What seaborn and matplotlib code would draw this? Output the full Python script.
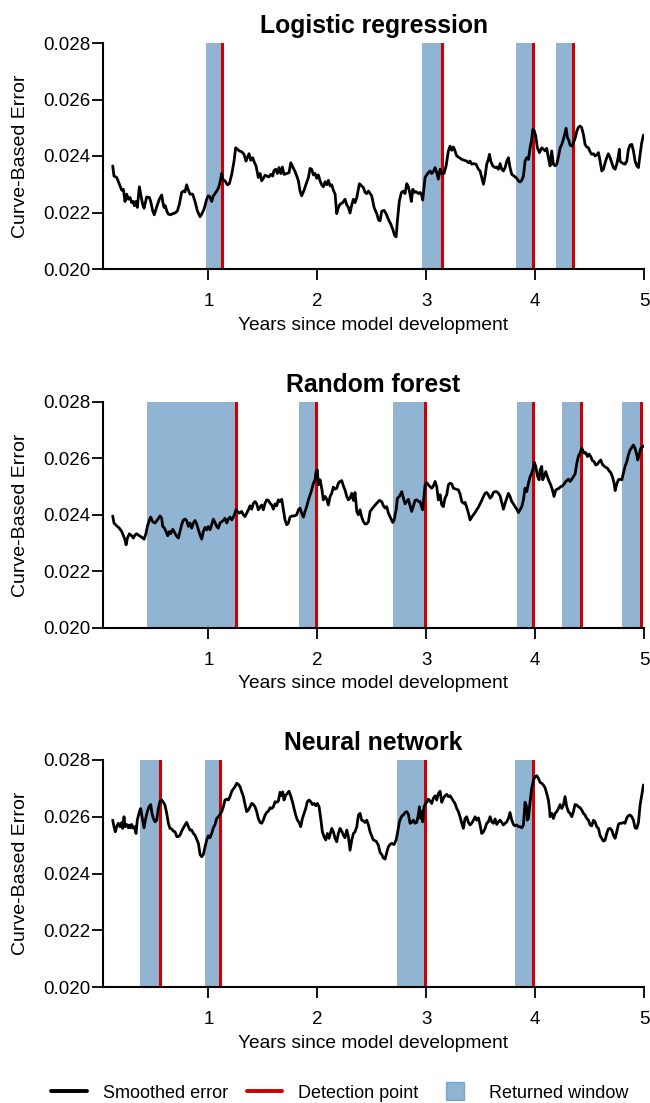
import matplotlib
matplotlib.use("Agg")
import numpy as np
import pandas as pd
import matplotlib.pyplot as plt
import seaborn as sns
from matplotlib.lines import Line2D

sns.set_theme(style="ticks")
plt.rcParams["font.family"] = ["Liberation Sans", "DejaVu Sans"]
plt.rcParams["text.color"] = "black"
plt.rcParams["axes.labelcolor"] = "black"
plt.rcParams["xtick.color"] = "black"
plt.rcParams["ytick.color"] = "black"

# ---------------- smoothed curve-based error, per model ----------------
lr_years = [
    0.122, 0.134, 0.159, 0.183, 0.205, 0.220, 0.235, 0.250, 0.266, 0.281, 0.296, 0.312, 0.321, 0.336, 0.348,
    0.367, 0.379, 0.397, 0.410, 0.434, 0.459, 0.471, 0.489, 0.504, 0.526, 0.550, 0.572, 0.581, 0.593, 0.605,
    0.618, 0.633, 0.654, 0.673, 0.694, 0.716, 0.734, 0.755, 0.771, 0.786, 0.801, 0.817, 0.832, 0.856, 0.878,
    0.899, 0.924, 0.939, 0.961, 0.985, 1.000, 1.016, 1.031, 1.046, 1.062, 1.077, 1.092, 1.107, 1.123, 1.132,
    1.153, 1.175, 1.193, 1.215, 1.236, 1.251, 1.267, 1.285, 1.306, 1.328, 1.346, 1.358, 1.374, 1.389, 1.407,
    1.420, 1.438, 1.459, 1.475, 1.490, 1.505, 1.521, 1.536, 1.557, 1.573, 1.591, 1.603, 1.619, 1.634, 1.649,
    1.665, 1.680, 1.695, 1.720, 1.741, 1.757, 1.775, 1.796, 1.812, 1.827, 1.842, 1.857, 1.879, 1.897, 1.919,
    1.934, 1.949, 1.965, 1.980, 1.995, 2.010, 2.026, 2.041, 2.056, 2.072, 2.087, 2.102, 2.118, 2.133, 2.148,
    2.164, 2.179, 2.194, 2.209, 2.234, 2.255, 2.271, 2.286, 2.301, 2.317, 2.332, 2.347, 2.363, 2.387, 2.408,
    2.424, 2.439, 2.454, 2.470, 2.500, 2.522, 2.546, 2.564, 2.577, 2.592, 2.613, 2.632, 2.653, 2.675, 2.693,
    2.711, 2.724, 2.736, 2.754, 2.773, 2.791, 2.806, 2.822, 2.837, 2.852, 2.864, 2.877, 2.892, 2.907, 2.929,
    2.944, 2.959, 2.968, 2.981, 2.990, 3.005, 3.020, 3.036, 3.051, 3.066, 3.082, 3.097, 3.112, 3.128, 3.143,
    3.164, 3.183, 3.204, 3.219, 3.235, 3.250, 3.265, 3.281, 3.305, 3.327, 3.348, 3.372, 3.388, 3.403, 3.418,
    3.434, 3.458, 3.480, 3.495, 3.510, 3.526, 3.541, 3.556, 3.571, 3.581, 3.593, 3.611, 3.633, 3.648, 3.663,
    3.679, 3.694, 3.709, 3.725, 3.740, 3.755, 3.770, 3.786, 3.807, 3.832, 3.847, 3.862, 3.878, 3.893, 3.908,
    3.923, 3.939, 3.954, 3.969, 3.979, 3.991, 4.006, 4.021, 4.040, 4.061, 4.076, 4.092, 4.107, 4.122, 4.138,
    4.153, 4.168, 4.184, 4.199, 4.214, 4.230, 4.245, 4.260, 4.275, 4.285, 4.297, 4.312, 4.321, 4.337, 4.352,
    4.367, 4.383, 4.398, 4.413, 4.428, 4.444, 4.459, 4.474, 4.490, 4.505, 4.520, 4.536, 4.551, 4.566, 4.582,
    4.597, 4.612, 4.627, 4.643, 4.658, 4.673, 4.689, 4.704, 4.719, 4.735, 4.750, 4.765, 4.774, 4.780, 4.796,
    4.811, 4.826, 4.842, 4.857, 4.872, 4.888, 4.903, 4.918, 4.934, 4.949, 4.964, 4.979, 4.995,
]
lr_error = [
    0.02365, 0.02329, 0.02324, 0.02300, 0.02279, 0.02282, 0.02239, 0.02265, 0.02247, 0.02253, 0.02235, 0.02239, 0.02224, 0.02239, 0.02218,
    0.02291, 0.02265, 0.02229, 0.02215, 0.02255, 0.02253, 0.02239, 0.02206, 0.02192, 0.02220, 0.02247, 0.02262, 0.02239, 0.02218, 0.02224,
    0.02206, 0.02194, 0.02192, 0.02196, 0.02198, 0.02206, 0.02229, 0.02271, 0.02276, 0.02273, 0.02298, 0.02279, 0.02265, 0.02265, 0.02239,
    0.02206, 0.02185, 0.02194, 0.02212, 0.02247, 0.02259, 0.02255, 0.02239, 0.02259, 0.02267, 0.02276, 0.02286, 0.02306, 0.02338, 0.02318,
    0.02312, 0.02298, 0.02302, 0.02335, 0.02382, 0.02429, 0.02424, 0.02418, 0.02415, 0.02406, 0.02382, 0.02394, 0.02408, 0.02385, 0.02394,
    0.02380, 0.02365, 0.02324, 0.02338, 0.02312, 0.02321, 0.02332, 0.02329, 0.02326, 0.02335, 0.02329, 0.02349, 0.02353, 0.02338, 0.02359,
    0.02338, 0.02361, 0.02335, 0.02338, 0.02341, 0.02376, 0.02361, 0.02345, 0.02329, 0.02312, 0.02276, 0.02259, 0.02279, 0.02300, 0.02324,
    0.02356, 0.02353, 0.02333, 0.02338, 0.02321, 0.02333, 0.02312, 0.02298, 0.02291, 0.02309, 0.02298, 0.02314, 0.02294, 0.02298, 0.02279,
    0.02265, 0.02196, 0.02218, 0.02229, 0.02235, 0.02247, 0.02227, 0.02218, 0.02198, 0.02227, 0.02247, 0.02235, 0.02253, 0.02302, 0.02294,
    0.02288, 0.02271, 0.02267, 0.02276, 0.02259, 0.02218, 0.02196, 0.02173, 0.02171, 0.02204, 0.02208, 0.02196, 0.02176, 0.02159, 0.02141,
    0.02118, 0.02114, 0.02171, 0.02241, 0.02271, 0.02276, 0.02267, 0.02302, 0.02291, 0.02265, 0.02239, 0.02282, 0.02271, 0.02274, 0.02267,
    0.02271, 0.02262, 0.02244, 0.02291, 0.02324, 0.02333, 0.02341, 0.02347, 0.02338, 0.02345, 0.02359, 0.02341, 0.02318, 0.02353, 0.02338,
    0.02338, 0.02365, 0.02418, 0.02435, 0.02420, 0.02432, 0.02418, 0.02400, 0.02394, 0.02388, 0.02385, 0.02382, 0.02376, 0.02382, 0.02371,
    0.02373, 0.02371, 0.02353, 0.02347, 0.02324, 0.02300, 0.02329, 0.02371, 0.02388, 0.02406, 0.02382, 0.02365, 0.02359, 0.02361, 0.02353,
    0.02373, 0.02353, 0.02347, 0.02359, 0.02382, 0.02394, 0.02359, 0.02335, 0.02329, 0.02321, 0.02312, 0.02308, 0.02314, 0.02329, 0.02382,
    0.02394, 0.02388, 0.02429, 0.02459, 0.02494, 0.02491, 0.02471, 0.02429, 0.02412, 0.02429, 0.02424, 0.02418, 0.02427, 0.02394, 0.02365,
    0.02418, 0.02371, 0.02365, 0.02371, 0.02396, 0.02429, 0.02441, 0.02459, 0.02482, 0.02498, 0.02465, 0.02453, 0.02439, 0.02435, 0.02447,
    0.02462, 0.02488, 0.02502, 0.02506, 0.02500, 0.02476, 0.02441, 0.02432, 0.02429, 0.02415, 0.02406, 0.02408, 0.02400, 0.02404, 0.02412,
    0.02382, 0.02347, 0.02353, 0.02376, 0.02394, 0.02408, 0.02394, 0.02376, 0.02359, 0.02353, 0.02371, 0.02400, 0.02424, 0.02382, 0.02376,
    0.02373, 0.02371, 0.02382, 0.02424, 0.02439, 0.02441, 0.02418, 0.02382, 0.02365, 0.02359, 0.02406, 0.02447, 0.02474,
]

rf_years = [
    0.122, 0.134, 0.159, 0.183, 0.205, 0.220, 0.235, 0.245, 0.257, 0.275, 0.296, 0.312, 0.327, 0.342, 0.367,
    0.388, 0.410, 0.428, 0.440, 0.459, 0.471, 0.489, 0.511, 0.532, 0.556, 0.572, 0.581, 0.593, 0.612, 0.627,
    0.642, 0.654, 0.673, 0.694, 0.710, 0.725, 0.740, 0.755, 0.771, 0.786, 0.801, 0.817, 0.832, 0.847, 0.863,
    0.878, 0.893, 0.909, 0.924, 0.939, 0.954, 0.970, 0.985, 1.000, 1.016, 1.031, 1.046, 1.062, 1.077, 1.092,
    1.107, 1.123, 1.138, 1.153, 1.169, 1.184, 1.199, 1.215, 1.230, 1.245, 1.254, 1.267, 1.285, 1.306, 1.322,
    1.337, 1.352, 1.368, 1.383, 1.398, 1.414, 1.429, 1.444, 1.459, 1.475, 1.490, 1.505, 1.521, 1.536, 1.551,
    1.567, 1.582, 1.597, 1.613, 1.628, 1.643, 1.658, 1.674, 1.689, 1.704, 1.720, 1.735, 1.750, 1.766, 1.787,
    1.811, 1.827, 1.842, 1.857, 1.873, 1.888, 1.903, 1.919, 1.934, 1.949, 1.965, 1.980, 1.989, 2.001, 2.010,
    2.026, 2.041, 2.056, 2.072, 2.087, 2.102, 2.118, 2.133, 2.148, 2.164, 2.179, 2.194, 2.209, 2.225, 2.240,
    2.255, 2.271, 2.286, 2.301, 2.317, 2.332, 2.347, 2.363, 2.378, 2.393, 2.408, 2.424, 2.439, 2.454, 2.470,
    2.485, 2.515, 2.546, 2.571, 2.592, 2.607, 2.623, 2.638, 2.653, 2.675, 2.693, 2.705, 2.724, 2.736, 2.754,
    2.776, 2.791, 2.806, 2.822, 2.837, 2.852, 2.867, 2.883, 2.898, 2.913, 2.929, 2.944, 2.959, 2.968, 2.981,
    2.990, 3.005, 3.020, 3.036, 3.051, 3.066, 3.082, 3.097, 3.112, 3.128, 3.143, 3.158, 3.173, 3.189, 3.204,
    3.219, 3.235, 3.250, 3.274, 3.296, 3.311, 3.327, 3.342, 3.357, 3.372, 3.388, 3.403, 3.418, 3.434, 3.449,
    3.464, 3.480, 3.495, 3.510, 3.526, 3.541, 3.556, 3.571, 3.587, 3.602, 3.617, 3.633, 3.648, 3.663, 3.679,
    3.694, 3.709, 3.725, 3.740, 3.755, 3.770, 3.786, 3.801, 3.816, 3.832, 3.847, 3.862, 3.878, 3.893, 3.908,
    3.923, 3.939, 3.954, 3.969, 3.985, 3.994, 4.006, 4.021, 4.037, 4.046, 4.061, 4.070, 4.083, 4.098, 4.113,
    4.129, 4.144, 4.159, 4.174, 4.190, 4.205, 4.220, 4.236, 4.251, 4.266, 4.282, 4.291, 4.306, 4.321, 4.337,
    4.352, 4.367, 4.383, 4.398, 4.413, 4.428, 4.438, 4.450, 4.465, 4.481, 4.496, 4.511, 4.526, 4.542, 4.557,
    4.572, 4.588, 4.603, 4.618, 4.634, 4.649, 4.664, 4.679, 4.695, 4.710, 4.725, 4.735, 4.750, 4.765, 4.780,
    4.796, 4.811, 4.826, 4.842, 4.857, 4.872, 4.888, 4.903, 4.918, 4.934, 4.943, 4.955, 4.970, 4.989, 5.000,
]
rf_error = [
    0.02396, 0.02371, 0.02361, 0.02353, 0.02341, 0.02326, 0.02312, 0.02294, 0.02318, 0.02333, 0.02326, 0.02318, 0.02329, 0.02333, 0.02326,
    0.02321, 0.02314, 0.02335, 0.02359, 0.02382, 0.02392, 0.02376, 0.02371, 0.02382, 0.02396, 0.02388, 0.02359, 0.02356, 0.02341, 0.02326,
    0.02341, 0.02333, 0.02349, 0.02335, 0.02324, 0.02318, 0.02341, 0.02365, 0.02382, 0.02385, 0.02380, 0.02359, 0.02371, 0.02353, 0.02371,
    0.02380, 0.02368, 0.02347, 0.02329, 0.02314, 0.02341, 0.02356, 0.02347, 0.02359, 0.02347, 0.02365, 0.02385, 0.02373, 0.02359, 0.02353,
    0.02371, 0.02376, 0.02380, 0.02388, 0.02371, 0.02385, 0.02392, 0.02382, 0.02392, 0.02406, 0.02418, 0.02412, 0.02406, 0.02412, 0.02400,
    0.02394, 0.02406, 0.02418, 0.02432, 0.02420, 0.02441, 0.02447, 0.02439, 0.02418, 0.02427, 0.02435, 0.02418, 0.02441, 0.02453, 0.02451,
    0.02441, 0.02435, 0.02420, 0.02439, 0.02432, 0.02453, 0.02447, 0.02455, 0.02418, 0.02382, 0.02365, 0.02371, 0.02392, 0.02396, 0.02396,
    0.02400, 0.02418, 0.02424, 0.02406, 0.02392, 0.02412, 0.02429, 0.02453, 0.02471, 0.02488, 0.02512, 0.02524, 0.02553, 0.02559, 0.02506,
    0.02524, 0.02494, 0.02453, 0.02465, 0.02455, 0.02435, 0.02465, 0.02476, 0.02498, 0.02491, 0.02494, 0.02512, 0.02518, 0.02521, 0.02502,
    0.02488, 0.02465, 0.02453, 0.02459, 0.02476, 0.02451, 0.02479, 0.02412, 0.02400, 0.02418, 0.02392, 0.02376, 0.02368, 0.02368, 0.02376,
    0.02412, 0.02427, 0.02441, 0.02451, 0.02447, 0.02432, 0.02424, 0.02429, 0.02406, 0.02388, 0.02373, 0.02380, 0.02418, 0.02459, 0.02465,
    0.02482, 0.02459, 0.02439, 0.02447, 0.02455, 0.02432, 0.02412, 0.02432, 0.02451, 0.02453, 0.02447, 0.02447, 0.02427, 0.02418, 0.02471,
    0.02506, 0.02514, 0.02506, 0.02500, 0.02494, 0.02502, 0.02518, 0.02500, 0.02453, 0.02471, 0.02435, 0.02429, 0.02459, 0.02471, 0.02506,
    0.02512, 0.02509, 0.02494, 0.02491, 0.02488, 0.02474, 0.02447, 0.02441, 0.02444, 0.02427, 0.02406, 0.02382, 0.02392, 0.02400, 0.02408,
    0.02418, 0.02427, 0.02439, 0.02451, 0.02465, 0.02476, 0.02479, 0.02471, 0.02459, 0.02465, 0.02479, 0.02482, 0.02482, 0.02476, 0.02467,
    0.02444, 0.02420, 0.02441, 0.02459, 0.02476, 0.02465, 0.02447, 0.02439, 0.02429, 0.02420, 0.02408, 0.02418, 0.02429, 0.02453, 0.02494,
    0.02482, 0.02512, 0.02535, 0.02547, 0.02568, 0.02585, 0.02571, 0.02538, 0.02524, 0.02559, 0.02571, 0.02524, 0.02535, 0.02553, 0.02535,
    0.02518, 0.02506, 0.02488, 0.02465, 0.02488, 0.02491, 0.02494, 0.02500, 0.02502, 0.02509, 0.02518, 0.02521, 0.02526, 0.02518, 0.02526,
    0.02535, 0.02544, 0.02582, 0.02608, 0.02618, 0.02635, 0.02629, 0.02618, 0.02620, 0.02606, 0.02615, 0.02606, 0.02592, 0.02588, 0.02576,
    0.02579, 0.02588, 0.02594, 0.02579, 0.02572, 0.02568, 0.02565, 0.02556, 0.02549, 0.02535, 0.02512, 0.02486, 0.02509, 0.02524, 0.02526,
    0.02524, 0.02547, 0.02571, 0.02588, 0.02612, 0.02629, 0.02638, 0.02647, 0.02635, 0.02612, 0.02594, 0.02612, 0.02635, 0.02641, 0.02644,
]

nn_years = [
    0.122, 0.134, 0.146, 0.159, 0.174, 0.189, 0.205, 0.214, 0.226, 0.235, 0.250, 0.266, 0.275, 0.287, 0.296,
    0.312, 0.327, 0.336, 0.348, 0.367, 0.379, 0.394, 0.410, 0.425, 0.440, 0.455, 0.471, 0.483, 0.495, 0.511,
    0.526, 0.541, 0.556, 0.572, 0.587, 0.602, 0.618, 0.633, 0.648, 0.664, 0.679, 0.694, 0.710, 0.725, 0.740,
    0.755, 0.771, 0.786, 0.801, 0.817, 0.832, 0.847, 0.863, 0.878, 0.893, 0.909, 0.924, 0.939, 0.954, 0.970,
    0.985, 1.000, 1.016, 1.031, 1.046, 1.062, 1.077, 1.092, 1.107, 1.123, 1.138, 1.153, 1.169, 1.184, 1.199,
    1.215, 1.230, 1.245, 1.261, 1.276, 1.291, 1.306, 1.322, 1.337, 1.352, 1.368, 1.383, 1.398, 1.414, 1.429,
    1.444, 1.459, 1.475, 1.490, 1.505, 1.521, 1.536, 1.551, 1.567, 1.582, 1.597, 1.613, 1.628, 1.643, 1.658,
    1.674, 1.683, 1.695, 1.710, 1.726, 1.741, 1.756, 1.772, 1.787, 1.802, 1.818, 1.833, 1.848, 1.864, 1.879,
    1.894, 1.909, 1.925, 1.940, 1.955, 1.971, 1.986, 2.001, 2.017, 2.032, 2.047, 2.062, 2.078, 2.093, 2.108,
    2.118, 2.133, 2.148, 2.164, 2.179, 2.194, 2.209, 2.225, 2.240, 2.255, 2.271, 2.286, 2.301, 2.317, 2.332,
    2.347, 2.363, 2.378, 2.393, 2.408, 2.424, 2.439, 2.454, 2.470, 2.485, 2.515, 2.540, 2.561, 2.577, 2.592,
    2.607, 2.623, 2.638, 2.653, 2.668, 2.684, 2.705, 2.724, 2.736, 2.754, 2.766, 2.779, 2.791, 2.806, 2.822,
    2.837, 2.852, 2.867, 2.883, 2.898, 2.913, 2.929, 2.938, 2.950, 2.959, 2.968, 2.981, 2.990, 3.005, 3.020,
    3.036, 3.051, 3.066, 3.082, 3.097, 3.112, 3.128, 3.143, 3.158, 3.173, 3.189, 3.204, 3.219, 3.235, 3.250,
    3.265, 3.281, 3.296, 3.311, 3.327, 3.342, 3.357, 3.372, 3.388, 3.403, 3.418, 3.434, 3.449, 3.464, 3.480,
    3.495, 3.510, 3.526, 3.541, 3.556, 3.571, 3.587, 3.602, 3.617, 3.633, 3.648, 3.663, 3.679, 3.694, 3.709,
    3.725, 3.740, 3.755, 3.770, 3.786, 3.801, 3.816, 3.832, 3.847, 3.862, 3.878, 3.893, 3.908, 3.923, 3.929,
    3.939, 3.954, 3.969, 3.985, 4.000, 4.015, 4.031, 4.046, 4.061, 4.076, 4.092, 4.107, 4.122, 4.132, 4.138,
    4.153, 4.168, 4.184, 4.199, 4.214, 4.230, 4.245, 4.260, 4.275, 4.291, 4.306, 4.321, 4.337, 4.352, 4.367,
    4.383, 4.398, 4.413, 4.428, 4.444, 4.459, 4.474, 4.490, 4.505, 4.520, 4.536, 4.551, 4.566, 4.582, 4.597,
    4.612, 4.627, 4.643, 4.658, 4.673, 4.689, 4.704, 4.719, 4.735, 4.750, 4.765, 4.780, 4.796, 4.811, 4.826,
    4.842, 4.857, 4.872, 4.888, 4.903, 4.918, 4.934, 4.949, 4.964, 4.979, 4.995,
]
nn_error = [
    0.02588, 0.02565, 0.02547, 0.02565, 0.02577, 0.02565, 0.02580, 0.02559, 0.02600, 0.02565, 0.02573, 0.02561, 0.02571, 0.02561, 0.02573,
    0.02559, 0.02565, 0.02541, 0.02588, 0.02618, 0.02629, 0.02594, 0.02561, 0.02594, 0.02618, 0.02635, 0.02643, 0.02612, 0.02594, 0.02582,
    0.02588, 0.02629, 0.02655, 0.02659, 0.02651, 0.02641, 0.02612, 0.02577, 0.02559, 0.02557, 0.02549, 0.02547, 0.02530, 0.02530, 0.02535,
    0.02549, 0.02561, 0.02571, 0.02580, 0.02565, 0.02553, 0.02553, 0.02541, 0.02535, 0.02521, 0.02506, 0.02467, 0.02459, 0.02467, 0.02494,
    0.02518, 0.02533, 0.02526, 0.02541, 0.02561, 0.02573, 0.02594, 0.02600, 0.02608, 0.02618, 0.02635, 0.02659, 0.02662, 0.02659, 0.02671,
    0.02690, 0.02698, 0.02706, 0.02718, 0.02714, 0.02706, 0.02688, 0.02671, 0.02643, 0.02618, 0.02624, 0.02635, 0.02647, 0.02643, 0.02635,
    0.02618, 0.02594, 0.02580, 0.02577, 0.02588, 0.02606, 0.02615, 0.02620, 0.02632, 0.02629, 0.02635, 0.02653, 0.02651, 0.02655, 0.02686,
    0.02674, 0.02688, 0.02659, 0.02676, 0.02682, 0.02690, 0.02674, 0.02653, 0.02629, 0.02606, 0.02588, 0.02580, 0.02565, 0.02594, 0.02612,
    0.02629, 0.02653, 0.02659, 0.02653, 0.02643, 0.02647, 0.02639, 0.02647, 0.02635, 0.02594, 0.02547, 0.02530, 0.02518, 0.02541, 0.02524,
    0.02538, 0.02559, 0.02547, 0.02524, 0.02512, 0.02541, 0.02559, 0.02549, 0.02535, 0.02526, 0.02553, 0.02530, 0.02482, 0.02518, 0.02541,
    0.02547, 0.02565, 0.02606, 0.02612, 0.02588, 0.02585, 0.02580, 0.02588, 0.02571, 0.02547, 0.02518, 0.02514, 0.02500, 0.02474, 0.02467,
    0.02455, 0.02451, 0.02474, 0.02494, 0.02502, 0.02506, 0.02502, 0.02518, 0.02541, 0.02582, 0.02594, 0.02604, 0.02606, 0.02615, 0.02618,
    0.02608, 0.02577, 0.02580, 0.02588, 0.02577, 0.02580, 0.02608, 0.02635, 0.02594, 0.02618, 0.02582, 0.02635, 0.02643, 0.02651, 0.02662,
    0.02655, 0.02647, 0.02665, 0.02674, 0.02659, 0.02682, 0.02690, 0.02651, 0.02665, 0.02674, 0.02679, 0.02671, 0.02674, 0.02665, 0.02655,
    0.02647, 0.02629, 0.02618, 0.02600, 0.02577, 0.02559, 0.02594, 0.02600, 0.02580, 0.02571, 0.02577, 0.02588, 0.02600, 0.02588, 0.02596,
    0.02571, 0.02541, 0.02547, 0.02559, 0.02577, 0.02582, 0.02600, 0.02582, 0.02577, 0.02592, 0.02573, 0.02582, 0.02588, 0.02580, 0.02571,
    0.02577, 0.02582, 0.02594, 0.02615, 0.02588, 0.02573, 0.02568, 0.02571, 0.02565, 0.02565, 0.02561, 0.02571, 0.02651, 0.02635, 0.02588,
    0.02594, 0.02653, 0.02700, 0.02729, 0.02741, 0.02745, 0.02735, 0.02721, 0.02718, 0.02712, 0.02702, 0.02682, 0.02659, 0.02629, 0.02600,
    0.02612, 0.02594, 0.02612, 0.02618, 0.02629, 0.02643, 0.02629, 0.02641, 0.02671, 0.02635, 0.02618, 0.02612, 0.02600, 0.02618, 0.02643,
    0.02641, 0.02635, 0.02632, 0.02624, 0.02612, 0.02606, 0.02594, 0.02588, 0.02571, 0.02568, 0.02588, 0.02582, 0.02565, 0.02559, 0.02533,
    0.02524, 0.02514, 0.02518, 0.02541, 0.02557, 0.02559, 0.02553, 0.02535, 0.02524, 0.02547, 0.02573, 0.02577, 0.02577, 0.02580, 0.02577,
    0.02596, 0.02604, 0.02606, 0.02600, 0.02588, 0.02561, 0.02559, 0.02580, 0.02641, 0.02676, 0.02712,
]

# ---------------- returned windows (start) and detection points ----------------
lr_window_start = [0.979, 2.959, 3.826, 4.193]
lr_detection = [1.129, 3.143, 3.985, 4.352]
rf_window_start = [0.440, 1.836, 2.699, 3.832, 4.251, 4.802]
rf_detection = [1.254, 1.989, 2.990, 3.979, 4.422, 4.970]
nn_window_start = [0.373, 0.970, 2.730, 3.813]
nn_detection = [0.560, 1.111, 2.993, 3.985]

model_names = ["Logistic regression", "Random forest", "Neural network"]
y_ticks = [0.020, 0.022, 0.024, 0.026, 0.028]
x_ticks = [1, 2, 3, 4, 5]

curves = pd.concat(
    [
        pd.DataFrame({"model": model_names[0], "year": lr_years, "error": lr_error}),
        pd.DataFrame({"model": model_names[1], "year": rf_years, "error": rf_error}),
        pd.DataFrame({"model": model_names[2], "year": nn_years, "error": nn_error}),
    ],
    ignore_index=True,
)
windows = {
    model_names[0]: (lr_window_start, lr_detection),
    model_names[1]: (rf_window_start, rf_detection),
    model_names[2]: (nn_window_start, nn_detection),
}

WINDOW_COLOR = "steelblue"
DETECT_COLOR = "#CD0000"

fig = plt.figure(figsize=(6.5, 11.03), dpi=100)
W, H = 650.0, 1103.0
ax_left, ax_right = 103.0, 644.0
panel_rows = [(43.0, 269.0), (401.7, 628.0), (760.0, 987.0)]
XLABEL_DROP = 56.0   # px from the x axis down to the centre of its label
YLABEL_X = 21.0      # px from the figure's left edge to the y label centre

for name, (top, bottom) in zip(model_names, panel_rows):
    height = bottom - top
    ax = fig.add_axes([ax_left / W, 1 - bottom / H, (ax_right - ax_left) / W, height / H])
    starts, detects = windows[name]
    for s, d in zip(starts, detects):
        ax.axvspan(s, d, color=WINDOW_COLOR, alpha=0.6, lw=0, zorder=1)
    for d in detects:
        ax.axvline(d, color=DETECT_COLOR, lw=2.2, zorder=2)
    sns.lineplot(
        data=curves[curves["model"] == name], x="year", y="error",
        estimator=None, sort=False, color="black", lw=2.0, ax=ax, zorder=3,
    )
    ax.set_xlim(0.033, 5.0)
    ax.set_ylim(0.020, 0.028)
    ax.set_xticks(x_ticks)
    ax.set_xticklabels([str(t) for t in x_ticks])
    ax.set_yticks(y_ticks)
    ax.set_yticklabels([f"{t:.3f}" for t in y_ticks])
    sns.despine(ax=ax)
    for side in ("left", "bottom"):
        ax.spines[side].set_linewidth(1.5)
        ax.spines[side].set_color("black")
    ax.tick_params(axis="both", length=8, width=1.3, color="black", labelsize=13.5, labelcolor="black")
    ax.tick_params(axis="x", pad=9)
    ax.tick_params(axis="y", pad=1)
    ax.set_title(name, fontsize=17.8, fontweight="bold", pad=7, color="black")
    ax.set_xlabel("Years since model development", fontsize=13.8, va="center", color="black")
    ax.xaxis.set_label_coords(0.5, -XLABEL_DROP / height)
    ax.set_ylabel("Curve-Based Error", fontsize=14, va="center", ha="center", color="black")
    ax.yaxis.set_label_coords((YLABEL_X - ax_left) / (ax_right - ax_left), 0.5)
    ax.grid(False)

handles = [
    Line2D([], [], color="black", lw=2.8),
    Line2D([], [], color=DETECT_COLOR, lw=2.8),
    Line2D([], [], color=WINDOW_COLOR, alpha=0.6, marker="s", markersize=12.5, linestyle="None"),
]
fig.legend(
    handles, ["Smoothed error", "Detection point", "Returned window"],
    loc="center", bbox_to_anchor=(0.523, (H - 1093.0) / H), ncol=3, frameon=False,
    fontsize=13, handlelength=1.95, handletextpad=0.9, columnspacing=1.05,
)

fig.savefig("out.png", dpi=100)
